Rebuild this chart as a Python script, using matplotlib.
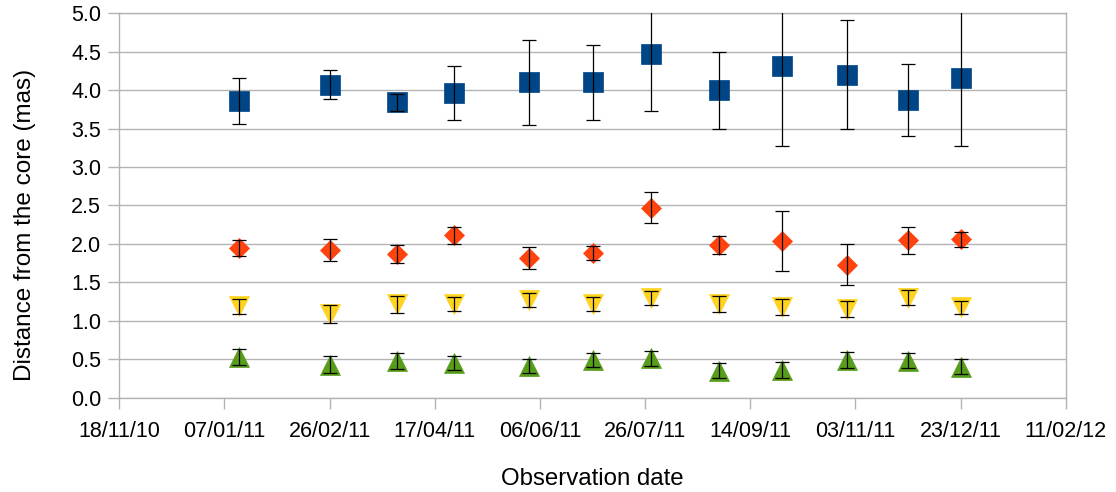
import numpy as np
import matplotlib.pyplot as plt
import matplotlib.dates as mdates
from datetime import datetime

plt.rcParams['font.family'] = ['Liberation Sans', 'DejaVu Sans']

# observation epochs
obs_dates = ['14/01/11', '26/02/11', '30/03/11', '26/04/11', '01/06/11', '01/07/11',
             '29/07/11', '30/08/11', '29/09/11', '30/10/11', '28/11/11', '23/12/11']

# components (distance from core, mas) and their errors
blue = [3.86, 4.07, 3.84, 3.96, 4.10, 4.10, 4.47, 4.00, 4.32, 4.20, 3.87, 4.16]
blue_err = [0.30, 0.19, 0.11, 0.35, 0.55, 0.49, 0.74, 0.50, 1.04, 0.71, 0.47, 0.88]

red = [1.945, 1.92, 1.87, 2.11, 1.82, 1.88, 2.47, 1.99, 2.04, 1.73, 2.045, 2.06]
red_err = [0.105, 0.145, 0.117, 0.115, 0.143, 0.087, 0.20, 0.115, 0.39, 0.27, 0.176, 0.094]

yellow = [1.19, 1.09, 1.215, 1.22, 1.27, 1.22, 1.30, 1.22, 1.18, 1.15, 1.30, 1.175]
yellow_err = [0.10, 0.117, 0.108, 0.095, 0.09, 0.095, 0.09, 0.10, 0.104, 0.107, 0.10, 0.087]

green = [0.53, 0.43, 0.477, 0.447, 0.41, 0.49, 0.51, 0.35, 0.358, 0.49, 0.483, 0.404]
green_err = [0.106, 0.113, 0.108, 0.09, 0.093, 0.091, 0.093, 0.097, 0.10, 0.108, 0.10, 0.096]

tick_labels = ['18/11/10', '07/01/11', '26/02/11', '17/04/11', '06/06/11',
               '26/07/11', '14/09/11', '03/11/11', '23/12/11', '11/02/12']

to_num = lambda s: mdates.date2num(datetime.strptime(s, '%d/%m/%y'))
x = np.array([to_num(d) for d in obs_dates])
xt = [to_num(d) for d in tick_labels]

fig = plt.figure(figsize=(11.16, 4.92), dpi=100)
ax = fig.add_axes([0.1069, 0.1917, 0.8481, 0.7813])

grid_col = '#b3b3b3'
series = [
    (blue, blue_err, 's', 14.5, '#004586'),
    (red, red_err, 'D', 10.0, '#ff420e'),
    (yellow, yellow_err, 'v', 14.0, '#ffd320'),
    (green, green_err, '^', 14.0, '#579d1c'),
]
for vals, errs, mk, ms, col in series:
    ax.plot(x, vals, linestyle='none', marker=mk, markersize=ms, color=col,
            markeredgewidth=0.5, markeredgecolor=col, zorder=3)
    ax.errorbar(x, vals, yerr=errs, fmt='none', ecolor='black', elinewidth=0.9,
                capsize=5.2, capthick=0.9, zorder=4)

ax.set_xlim(xt[0], xt[-1])
ax.set_ylim(0, 5)
ax.set_xticks(xt)
ax.set_xticklabels(tick_labels)
ax.set_yticks(np.arange(0, 5.01, 0.5))
ax.set_yticklabels([f'{v:.1f}' for v in np.arange(0, 5.01, 0.5)])

ax.yaxis.grid(True, color=grid_col, linewidth=1.0)
ax.set_axisbelow(True)
for sp in ax.spines.values():
    sp.set_color(grid_col)
    sp.set_linewidth(1.0)
ax.tick_params(axis='both', colors=grid_col, labelcolor='black', length=8,
               width=1.0, labelsize=15.5)
ax.tick_params(axis='x', pad=9)
ax.tick_params(axis='y', pad=5)

ax.set_xlabel('Observation date', fontsize=17.3)
ax.xaxis.set_label_coords(0.5, -0.2115)
ax.xaxis.label.set_va('center')
ax.set_ylabel('Distance from the core (mas)', fontsize=17.5)
ax.yaxis.set_label_coords(-0.0996, 0.45)
ax.yaxis.label.set_va('center')

fig.savefig('out.png', dpi=100)
